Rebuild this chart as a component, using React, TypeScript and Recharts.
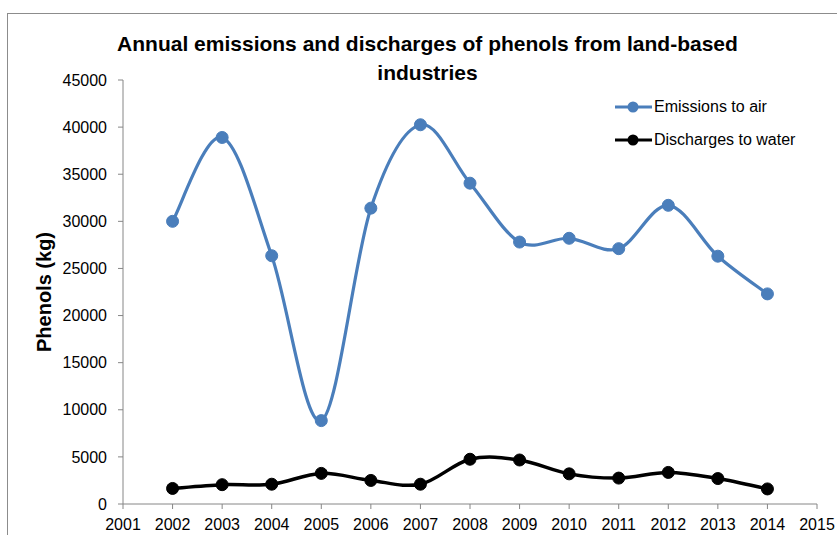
import React from 'react';
import { LineChart, Line, XAxis, YAxis } from 'recharts';

const years = [2002, 2003, 2004, 2005, 2006, 2007, 2008, 2009, 2010, 2011, 2012, 2013, 2014];
const emissionsToAir = [30000, 38900, 26350, 8850, 31400, 40250, 34050, 27800, 28200, 27100, 31700, 26300, 22300];
const dischargesToWater = [1650, 2050, 2100, 3250, 2500, 2100, 4750, 4670, 3200, 2750, 3350, 2700, 1600];
const xTicks = [2001, 2002, 2003, 2004, 2005, 2006, 2007, 2008, 2009, 2010, 2011, 2012, 2013, 2014, 2015];
const yTicks = [0, 5000, 10000, 15000, 20000, 25000, 30000, 35000, 40000, 45000];

const data = years.map((year, i) => ({
    year,
    air: emissionsToAir[i],
    water: dischargesToWater[i],
}));

// Excel-style smoothed line (Catmull-Rom as cubic Bezier)
const smoothCurve = (context: any) => {
    let pts: number[][] = [];
    return {
        areaStart() {},
        areaEnd() {},
        lineStart() { pts = []; },
        point(x: number, y: number) { pts.push([+x, +y]); },
        lineEnd() {
            if (!pts.length) return;
            context.moveTo(pts[0][0], pts[0][1]);
            for (let i = 0; i < pts.length - 1; i++) {
                const p0 = pts[Math.max(i - 1, 0)];
                const p1 = pts[i];
                const p2 = pts[i + 1];
                const p3 = pts[Math.min(i + 2, pts.length - 1)];
                context.bezierCurveTo(
                    p1[0] + (p2[0] - p0[0]) / 6, p1[1] + (p2[1] - p0[1]) / 6,
                    p2[0] - (p3[0] - p1[0]) / 6, p2[1] - (p3[1] - p1[1]) / 6,
                    p2[0], p2[1]
                );
            }
        },
    };
};

const font = '"Liberation Sans", Arial, sans-serif';
const axisColor = '#868686';

const legendItems = [
    { name: 'Emissions to air', color: '#4a7ebb' },
    { name: 'Discharges to water', color: '#000000' },
];

const App = () => {
    return (
        <div style={{ position: 'absolute', left: 0, top: 0, width: 837, height: 535, background: '#fff', overflow: 'hidden' }}>
            <div style={{ position: 'absolute', left: 7, top: 13, width: 900, height: 600, border: '1px solid #8c8c8c' }} />
            <div style={{ position: 'absolute', left: 0, top: 29, width: 855, textAlign: 'center', fontFamily: font, fontWeight: 'bold', fontSize: 21, lineHeight: '29px', color: '#000' }}>
                Annual emissions and discharges of phenols from land-based<br />industries
            </div>
            <LineChart
                width={837}
                height={535}
                data={data}
                margin={{ top: 80, right: 20, left: 0, bottom: 0 }}
                style={{ position: 'absolute', left: 0, top: 0 }}
            >
                <XAxis
                    dataKey="year"
                    type="number"
                    domain={[2001, 2015]}
                    ticks={xTicks}
                    interval={0}
                    height={31}
                    tickSize={5}
                    tickMargin={10}
                    stroke={axisColor}
                    tick={{ fill: '#000', fontSize: 16, fontFamily: font }}
                />
                <YAxis
                    domain={[0, 45000]}
                    ticks={yTicks}
                    interval={0}
                    width={123}
                    tickSize={5}
                    tickMargin={11}
                    stroke={axisColor}
                    tick={{ fill: '#000', fontSize: 16, fontFamily: font }}
                    label={{
                        value: 'Phenols (kg)',
                        angle: -90,
                        position: 'insideLeft',
                        offset: 44,
                        style: { textAnchor: 'middle', fontFamily: font, fontWeight: 'bold', fontSize: 20, fill: '#000' },
                    }}
                />
                <Line
                    dataKey="air"
                    name="Emissions to air"
                    type={smoothCurve as any}
                    stroke="#4a7ebb"
                    strokeWidth={3.2}
                    dot={{ r: 6, fill: '#4a7ebb', stroke: '#4a7ebb', strokeWidth: 1 }}
                    isAnimationActive={false}
                />
                <Line
                    dataKey="water"
                    name="Discharges to water"
                    type={smoothCurve as any}
                    stroke="#000000"
                    strokeWidth={3.5}
                    dot={{ r: 6, fill: '#000', stroke: '#000', strokeWidth: 1 }}
                    isAnimationActive={false}
                />
            </LineChart>
            <div style={{ position: 'absolute', left: 614, top: 90, fontFamily: font, fontSize: 16, color: '#000' }}>
                {legendItems.map((item) => (
                    <div key={item.name} style={{ display: 'flex', alignItems: 'center', height: 33 }}>
                        <svg width={39} height={14}>
                            <line x1={1} y1={7} x2={38} y2={7} stroke={item.color} strokeWidth={3} />
                            <circle cx={19} cy={7} r={5.5} fill={item.color} />
                        </svg>
                        <span style={{ marginLeft: 1 }}>{item.name}</span>
                    </div>
                ))}
            </div>
        </div>
    );
};

export default App;
